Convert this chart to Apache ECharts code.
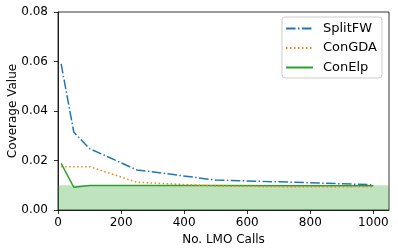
<!DOCTYPE html>
<html>
<head>
<meta charset="utf-8">
<script src="https://cdn.jsdelivr.net/npm/echarts@6/dist/echarts.min.js"></script>
<style>html,body{margin:0;padding:0;background:#fff}#c{width:398px;height:252px}</style>
</head>
<body>
<div id="c"></div>
<script>
const xCalls = [10, 50, 100, 250, 500, 750, 1000];
const splitFW = [0.059, 0.0315, 0.0248, 0.0162, 0.0121, 0.0112, 0.0102];
const conGDA = [0.0175, 0.0175, 0.0175, 0.0112, 0.0097, 0.0094, 0.0094];
const conElp = [0.0188, 0.0092, 0.0099, 0.0099, 0.0099, 0.0098, 0.0098];
const xTicks = [0, 200, 400, 600, 800, 1000];
const yTicks = [0, 0.02, 0.04, 0.06, 0.08];
const bandRange = [0, 0.01];

const font = 'DejaVu Sans';
const fs = 12;
const pair = (ys) => xCalls.map((x, i) => [x, ys[i]]);
const chart = echarts.init(document.getElementById('c'), null, {renderer: 'canvas'});
chart.setOption({
  animation: false,
  textStyle: {fontFamily: font},
  grid: {left: 58, right: 9, top: 12, bottom: 42, containLabel: false, outerBoundsMode: 'none', show: true, borderColor: '#000', borderWidth: 0.8, backgroundColor: 'transparent'},
  xAxis: {
    type: 'value', min: 0, max: 1049.5,
    name: 'No. LMO Calls', nameLocation: 'middle', nameGap: 22,
    nameTextStyle: {fontSize: fs, color: '#000', fontFamily: font},
    axisLine: {show: true, lineStyle: {color: '#000', width: 0.8}},
    axisTick: {show: true, length: 4, lineStyle: {color: '#000', width: 0.8}, customValues: xTicks},
    axisLabel: {fontSize: fs, color: '#000', margin: 7, fontFamily: font, customValues: xTicks, formatter: v => String(v)},
    splitLine: {show: false}
  },
  yAxis: {
    type: 'value', min: 0, max: 0.08, interval: 0.02,
    name: 'Coverage Value', nameLocation: 'middle', nameGap: 39, nameMoveOverlap: false,
    nameTextStyle: {fontSize: fs, color: '#000', fontFamily: font},
    axisLine: {show: true, lineStyle: {color: '#000', width: 0.8}},
    axisTick: {show: true, length: 4, lineStyle: {color: '#000', width: 0.8}, customValues: yTicks},
    axisLabel: {fontSize: fs, color: '#000', margin: 10, fontFamily: font, customValues: yTicks, formatter: v => v.toFixed(2)},
    splitLine: {show: false}
  },
  legend: {
    right: 16, top: 17,
    orient: 'vertical',
    itemWidth: 27, itemHeight: 12, itemGap: 6.5,
    padding: [5, 5, 4, 3],
    borderColor: '#ccc', borderWidth: 1, borderRadius: 3,
    backgroundColor: 'rgba(255,255,255,0.8)',
    itemStyle: {opacity: 0},
    textStyle: {fontSize: 13, lineHeight: 12, color: '#000', fontFamily: font, padding: [0, 0, 0, 5]},
    data: ['SplitFW', 'ConGDA', 'ConElp']
  },
  series: [
    {
      name: 'SplitFW', type: 'line', data: pair(splitFW), symbol: 'none', z: 3,
      lineStyle: {color: '#1f77b4', width: 1.5, type: [9.6, 2.4, 1.5, 2.4]},
      itemStyle: {color: '#1f77b4'},
      markArea: {silent: true, itemStyle: {color: 'rgba(44,160,44,0.3)'}, data: [[{yAxis: bandRange[0]}, {yAxis: bandRange[1]}]]}
    },
    {
      name: 'ConGDA', type: 'line', data: pair(conGDA), symbol: 'none', z: 4,
      lineStyle: {color: '#ff7f0e', width: 1.5, type: [1.5, 2.5]},
      itemStyle: {color: '#ff7f0e'}
    },
    {
      name: 'ConElp', type: 'line', data: pair(conElp), symbol: 'none', z: 2,
      lineStyle: {color: '#2ca02c', width: 1.5},
      itemStyle: {color: '#2ca02c'}
    }
  ]
});
</script>
</body>
</html>
